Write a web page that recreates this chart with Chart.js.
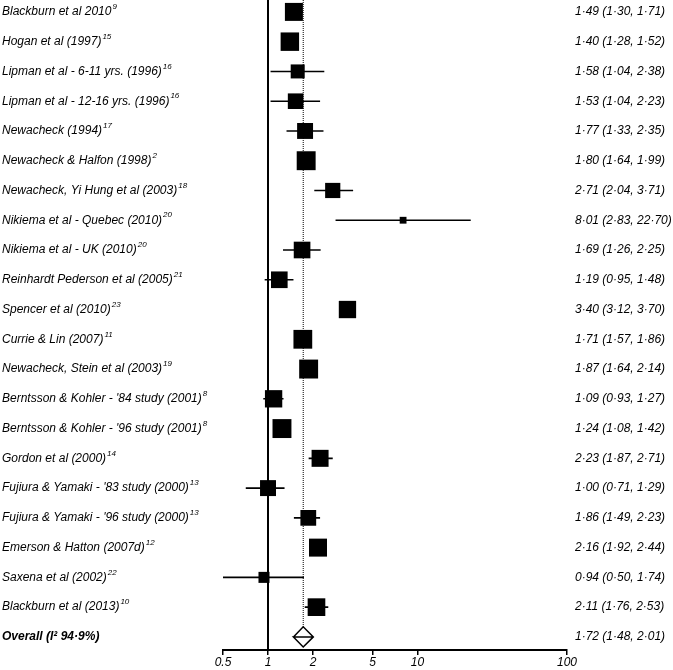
<!DOCTYPE html>
<html>
<head>
<meta charset="utf-8">
<script src="https://cdn.jsdelivr.net/npm/chart.js@4.4.1/dist/chart.umd.min.js"></script>
<style>
  html, body { margin: 0; padding: 0; background: #fff; }
</style>
</head>
<body>
<canvas id="chart" width="673" height="670"></canvas>
<script>
const studies = [
  "Blackburn et al 2010",
  "Hogan et al (1997)",
  "Lipman et al - 6-11 yrs. (1996)",
  "Lipman et al - 12-16 yrs. (1996)",
  "Newacheck (1994)",
  "Newacheck & Halfon (1998)",
  "Newacheck, Yi Hung et al (2003)",
  "Nikiema et al - Quebec (2010)",
  "Nikiema et al - UK (2010)",
  "Reinhardt Pederson et al (2005)",
  "Spencer et al (2010)",
  "Currie & Lin (2007)",
  "Newacheck, Stein et al (2003)",
  "Berntsson & Kohler - '84 study (2001)",
  "Berntsson & Kohler - '96 study (2001)",
  "Gordon et al (2000)",
  "Fujiura & Yamaki - '83 study (2000)",
  "Fujiura & Yamaki - '96 study (2000)",
  "Emerson & Hatton (2007d)",
  "Saxena et al (2002)",
  "Blackburn et al (2013)"
];
const refs = ["9", "15", "16", "16", "17", "2", "18", "20", "20", "21", "23",
  "11", "19", "8", "8", "14", "13", "13", "12", "22", "10"];
const estimate = [1.49, 1.40, 1.58, 1.53, 1.77, 1.80, 2.71, 8.01, 1.69, 1.19, 3.40,
  1.71, 1.87, 1.09, 1.24, 2.23, 1.00, 1.86, 2.16, 0.94, 2.11];
const lower = [1.30, 1.28, 1.04, 1.04, 1.33, 1.64, 2.04, 2.83, 1.26, 0.95, 3.12,
  1.57, 1.64, 0.93, 1.08, 1.87, 0.71, 1.49, 1.92, 0.50, 1.76];
const upper = [1.71, 1.52, 2.38, 2.23, 2.35, 1.99, 3.71, 22.70, 2.25, 1.48, 3.70,
  1.86, 2.14, 1.27, 1.42, 2.71, 1.29, 2.23, 2.44, 1.74, 2.53];
// relative study weights (%)
const weights = [5.6, 5.9, 3.4, 4.2, 4.4, 6.2, 4.0, 0.8, 4.8, 4.8, 5.2,
  6.1, 6.2, 5.2, 6.2, 5.0, 4.4, 4.3, 5.6, 2.1, 5.4];

const overallLabel = "Overall (I² 94·9%)";
const overallEst = 1.72;
const overallLow = 1.48;
const overallHigh = 2.01;

const xTicks = [0.5, 1, 2, 5, 10, 100];

const FAMILY = "'Liberation Sans', Arial, sans-serif";
const fmt = v => v.toFixed(2).replace('.', '·');

const leftLabels = studies.concat([overallLabel]);
const rightLabels = estimate.map((e, i) => fmt(e) + ' (' + fmt(lower[i]) + ', ' + fmt(upper[i]) + ')')
  .concat([fmt(overallEst) + ' (' + fmt(overallLow) + ', ' + fmt(overallHigh) + ')']);
const nRows = leftLabels.length;
const overallRow = nRows - 1;

const yMin = -0.4, yMax = 21.44;
const halfDiamond = 0.34;

// CI whiskers, broken between studies
const ciData = [];
estimate.forEach((e, i) => {
  ciData.push({x: lower[i], y: i}, {x: upper[i], y: i}, {x: NaN, y: NaN});
});

const pointData = estimate.map((e, i) => ({x: e, y: i}));
const boxRadius = weights.map(w => Math.sqrt(w) * 7.6 / Math.SQRT2);

const diamond = [
  {x: overallLow, y: overallRow},
  {x: overallEst, y: overallRow - halfDiamond},
  {x: overallHigh, y: overallRow},
  {x: overallEst, y: overallRow + halfDiamond},
  {x: overallLow, y: overallRow},
  {x: overallHigh, y: overallRow}
];

const rowTicks = scale => {
  scale.ticks = leftLabels.map((_, i) => ({value: i}));
};
const fitRows = w => scale => {
  scale.width = w;
  scale.paddingTop = 0;
  scale.paddingBottom = 0;
};

const rowFont = {family: FAMILY, size: 12, style: 'italic'};

// reference numbers as superscripts after the study names
const superscripts = {
  id: 'superscripts',
  afterDraw(chart) {
    const ctx = chart.ctx;
    const ys = chart.scales.y;
    ctx.save();
    ctx.fillStyle = '#000';
    ctx.textBaseline = 'middle';
    ctx.textAlign = 'left';
    refs.forEach((r, i) => {
      ctx.font = 'italic 12px ' + FAMILY;
      const w = ctx.measureText(studies[i]).width;
      const y = ys.getPixelForValue(i);
      ctx.font = 'italic 8px ' + FAMILY;
      ctx.fillText(r, ys.left + w + 1, y - 5);
    });
    ctx.restore();
  }
};

new Chart(document.getElementById('chart'), {
  type: 'scatter',
  data: {
    datasets: [
      {
        data: pointData,
        pointStyle: 'rect',
        pointRadius: boxRadius,
        backgroundColor: '#000',
        borderColor: '#000',
        borderWidth: 0,
        showLine: false,
        order: 0
      },
      {
        data: ciData,
        showLine: true,
        borderColor: '#000',
        borderWidth: 1.6,
        pointRadius: 0,
        order: 1
      },
      {
        data: diamond,
        showLine: true,
        borderColor: '#000',
        borderWidth: 1.5,
        pointRadius: 0,
        order: 1
      },
      {
        data: [{x: 1, y: yMin}, {x: 1, y: yMax}],
        showLine: true,
        borderColor: '#000',
        borderWidth: 2,
        pointRadius: 0,
        order: 2
      },
      {
        data: [{x: overallEst, y: yMin}, {x: overallEst, y: overallRow - halfDiamond}],
        showLine: true,
        borderColor: '#000',
        borderWidth: 1,
        borderDash: [1, 1],
        pointRadius: 0,
        order: 2
      }
    ]
  },
  options: {
    responsive: false,
    animation: false,
    layout: {autoPadding: false, padding: {left: 2, top: 0, right: 0, bottom: 0}},
    plugins: {legend: {display: false}, tooltip: {enabled: false}},
    scales: {
      x: {
        type: 'logarithmic',
        min: 0.5,
        max: 100,
        afterBuildTicks: scale => { scale.ticks = xTicks.map(v => ({value: v})); },
        afterFit: scale => { scale.height = 20; },
        grid: {display: true, drawOnChartArea: false, drawTicks: true, tickLength: 5, color: '#000', lineWidth: 1.5},
        border: {display: true, color: '#000', width: 2},
        ticks: {
          autoSkip: false,
          maxRotation: 0,
          padding: 0,
          color: '#000',
          font: {family: FAMILY, size: 12, style: 'italic'},
          callback: v => String(v)
        }
      },
      y: {
        type: 'linear',
        position: 'left',
        reverse: true,
        min: yMin,
        max: yMax,
        afterBuildTicks: rowTicks,
        afterFit: fitRows(221),
        grid: {display: false, drawTicks: false},
        border: {display: false},
        ticks: {
          autoSkip: false,
          crossAlign: 'far',
          padding: 0,
          color: '#000',
          font: ctx => Object.assign({}, rowFont, {
            weight: ctx.index === overallRow ? 'bold' : 'normal'
          }),
          callback: (v, i) => leftLabels[i]
        }
      },
      yRight: {
        type: 'linear',
        position: 'right',
        reverse: true,
        min: yMin,
        max: yMax,
        afterBuildTicks: rowTicks,
        afterFit: fitRows(106),
        grid: {display: false, drawTicks: false},
        border: {display: false},
        ticks: {
          autoSkip: false,
          crossAlign: 'near',
          padding: 8,
          color: '#000',
          font: rowFont,
          callback: (v, i) => rightLabels[i]
        }
      }
    }
  },
  plugins: [superscripts]
});
</script>
</body>
</html>
